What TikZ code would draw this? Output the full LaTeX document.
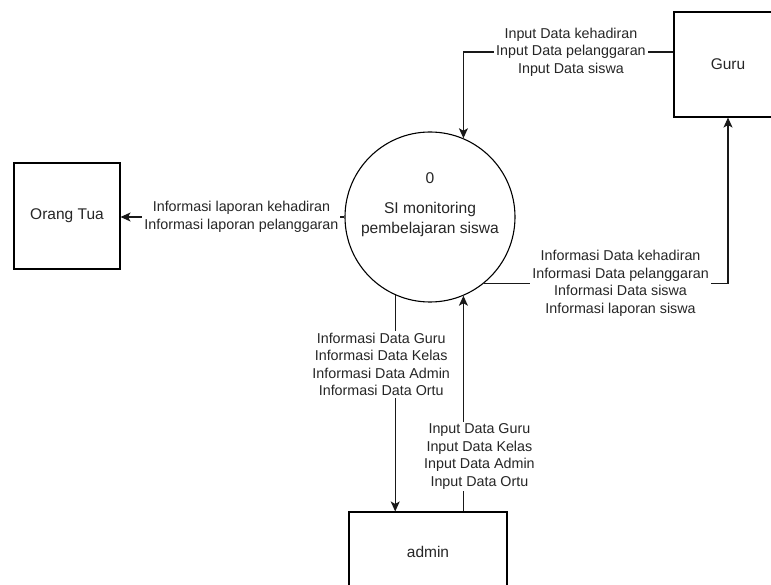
\documentclass[tikz,border=0pt]{standalone}
\usepackage{fontspec}
\setmainfont{Liberation Sans}
\usetikzlibrary{arrows.meta, positioning}

\tikzset{
	entitas/.style = {draw, line width = 1.1pt, minimum width = 106pt, minimum height = 106pt, font = \fontsize{15.5}{19}\selectfont, text = black!85},
	proses/.style = {draw, circle, line width = 1.1pt, minimum size = 170pt},
	alir/.style = {draw = black!90, line width = 1.1pt, -{Stealth[length = 10pt, width = 9pt, inset = 2.5pt]}},
	ket/.style = {fill = white, inner sep = 2pt, align = center, text = black!85, font = \fontsize{14.3}{17.5}\selectfont}
}

\begin{document}
\begin{tikzpicture}[x = 1pt, y = -1pt]
		\useasboundingbox (0,0) rectangle (771,585);
		
		\node [proses] (sistem) at (430,217) {};
		\node [align = center, text = black!85, font = \fontsize{15.6}{20}\selectfont] (sistem teks) at (430,205) {0\\[10pt]SI monitoring\\pembelajaran siswa};
		
		\node [entitas] (ortu) at (67,216) {Orang Tua};
		\node [entitas, minimum width = 108pt, minimum height = 105pt] (guru) at (728,64.5) {Guru};
		\node [entitas, minimum width = 158pt, minimum height = 80pt] (admin) at (428,552) {admin};
		
		% arus data
		\draw [alir] ([yshift = 12.5pt] guru.west) -| (sistem.67)
			node [ket, pos = 0.244] {Input Data kehadiran\\Input Data pelanggaran\\Input Data siswa};
		\draw [alir] (sistem.west) -- (sistem.west -| ortu.east)
			node [ket, pos = 0.46] {Informasi laporan kehadiran\\Informasi laporan pelanggaran};
		\draw [alir] (sistem.-51) -| (guru.south)
			node [ket, pos = 0.28] {Informasi Data kehadiran\\Informasi Data pelanggaran\\Informasi Data siswa\\Informasi laporan siswa};
		\draw [alir] (sistem.246) -- (sistem.246 |- admin.north)
			node [ket, pos = 0.32, xshift = -14pt] {Informasi Data Guru\\Informasi Data Kelas\\Informasi Data Admin\\Informasi Data Ortu};
		\draw [alir] (admin.north -| sistem.-67) -- (sistem.-67)
			node [ket, pos = 0.255, xshift = 16pt] {Input Data Guru\\Input Data Kelas\\Input Data Admin\\Input Data Ortu};
	\end{tikzpicture}
\end{document}
